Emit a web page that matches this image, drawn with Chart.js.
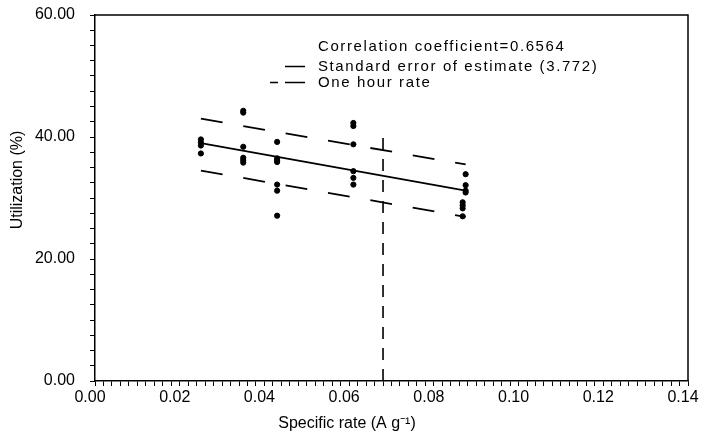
<!DOCTYPE html>
<html lang="en">
<head>
    <meta charset="UTF-8">
    <title>Utilization vs specific rate</title>
    <script src="https://cdn.jsdelivr.net/npm/chart.js"></script>
    <style>
        * {
            margin: 0;
            padding: 0;
            box-sizing: border-box;
        }

        body {
            background: #ffffff;
        }

        .chart-box {
            width: 701px;
            height: 437px;
        }
    </style>
</head>
<body>
    <div class="chart-box">
        <canvas id="utilChart" width="701" height="437"></canvas>
    </div>

    <script>
        // Measured points
        const rateX = [
            0.025, 0.025, 0.025, 0.025,
            0.035, 0.035, 0.035, 0.035, 0.035, 0.035,
            0.043, 0.043, 0.043, 0.043, 0.043, 0.043, 0.043,
            0.061, 0.061, 0.061, 0.061, 0.061, 0.061,
            0.0875, 0.0875, 0.0875, 0.0875,
            0.0868, 0.0868, 0.0868, 0.0868
        ];
        const utilY = [
            39.6, 39.1, 38.6, 37.3,
            44.3, 44.0, 38.4, 36.6, 36.2, 35.8,
            39.2, 36.5, 36.2, 35.9, 32.2, 31.2, 27.1,
            42.3, 41.8, 38.8, 34.4, 33.3, 32.2,
            33.9, 32.1, 31.2, 30.9,
            29.3, 28.8, 28.3, 27.0
        ];

        // Regression line and the dashed band around it
        const lineX = [0.025, 0.0875];
        const fitY = [39.0, 31.2];
        const upperY = [43.0, 35.5];
        const lowerY = [34.5, 26.9];

        // One hour rate marker
        const hourX = [0.068, 0.068];
        const hourY = [0, 40];

        const xTitle = 'Specific rate (A g\u207B\u00B9)';
        const yTitle = 'Utilization (%)';
        const legendLines = [
            'Correlation coefficient=0.6564',
            'Standard error of estimate (3.772)',
            'One hour rate'
        ];

        const toPoints = (xs, ys) => xs.map((x, i) => ({ x: x, y: ys[i] }));

        const tickFont = { family: "'Liberation Sans', Arial, sans-serif", size: 16 };

        // Titles, frame and legend text
        const decorations = {
            id: 'decorations',
            afterDraw(chart) {
                const ctx = chart.ctx;
                const area = chart.chartArea;
                ctx.save();
                ctx.strokeStyle = '#000';
                ctx.lineWidth = 1.5;
                ctx.beginPath();
                ctx.moveTo(area.left, area.top);
                ctx.lineTo(area.right, area.top);
                ctx.lineTo(area.right, area.bottom);
                ctx.stroke();

                ctx.fillStyle = '#000';
                ctx.font = "16px 'Liberation Sans', Arial, sans-serif";
                ctx.textAlign = 'center';
                ctx.textBaseline = 'middle';
                ctx.fillText(xTitle, 347, 424);

                ctx.save();
                ctx.translate(18, 180);
                ctx.rotate(-Math.PI / 2);
                ctx.fillText(yTitle, 0, 0);
                ctx.restore();

                // legend block
                ctx.textAlign = 'left';
                ctx.font = "15px 'Liberation Sans', Arial, sans-serif";
                ctx.letterSpacing = '1.6px';
                ctx.fillText(legendLines[0], 318, 47);
                ctx.fillText(legendLines[1], 318, 67);
                ctx.fillText(legendLines[2], 318, 83);
                ctx.letterSpacing = '0px';

                ctx.lineWidth = 1.6;
                ctx.beginPath();
                ctx.moveTo(285, 66.5);
                ctx.lineTo(305, 66.5);
                ctx.moveTo(270, 82.5);
                ctx.lineTo(278, 82.5);
                ctx.moveTo(285, 82.5);
                ctx.lineTo(305, 82.5);
                ctx.stroke();
                ctx.restore();
            }
        };

        const ctx = document.getElementById('utilChart').getContext('2d');
        const chart = new Chart(ctx, {
            type: 'scatter',
            data: {
                datasets: [
                    {
                        label: 'Measured',
                        data: toPoints(rateX, utilY),
                        backgroundColor: '#000',
                        borderColor: '#000',
                        pointRadius: 2.6,
                        pointHoverRadius: 2.6
                    },
                    {
                        label: 'Fit',
                        type: 'line',
                        data: toPoints(lineX, fitY),
                        borderColor: '#000',
                        borderWidth: 1.8,
                        pointRadius: 0,
                        fill: false
                    },
                    {
                        label: 'Upper',
                        type: 'line',
                        data: toPoints(lineX, upperY),
                        borderColor: '#000',
                        borderWidth: 1.8,
                        borderDash: [22, 21],
                        pointRadius: 0,
                        fill: false
                    },
                    {
                        label: 'Lower',
                        type: 'line',
                        data: toPoints(lineX, lowerY),
                        borderColor: '#000',
                        borderWidth: 1.8,
                        borderDash: [22, 21],
                        pointRadius: 0,
                        fill: false
                    },
                    {
                        label: 'One hour rate',
                        type: 'line',
                        data: toPoints(hourX, hourY),
                        borderColor: '#000',
                        borderWidth: 1.6,
                        borderDash: [12, 9],
                        pointRadius: 0,
                        fill: false
                    }
                ]
            },
            options: {
                responsive: false,
                animation: false,
                layout: {
                    padding: { top: 15, right: 13, left: 0, bottom: 0 }
                },
                plugins: {
                    legend: { display: false },
                    tooltip: { enabled: false }
                },
                scales: {
                    x: {
                        type: 'linear',
                        min: 0,
                        max: 0.14,
                        afterFit: (scale) => {
                            scale.height = 56;
                            scale.paddingLeft = 0;
                            scale.paddingRight = 0;
                        },
                        border: { display: true, color: '#000', width: 1.5 },
                        grid: {
                            drawOnChartArea: false,
                            drawTicks: true,
                            tickLength: 5,
                            color: '#000'
                        },
                        ticks: {
                            stepSize: 0.002,
                            autoSkip: false,
                            maxRotation: 0,
                            padding: 2,
                            labelOffset: -5,
                            color: '#000',
                            font: tickFont,
                            callback: (v) => Math.round(v * 1000) % 20 === 0 ? v.toFixed(2) : ''
                        }
                    },
                    y: {
                        min: 0,
                        max: 60,
                        afterFit: (scale) => {
                            scale.width = 95;
                            scale.paddingTop = 0;
                            scale.paddingBottom = 0;
                        },
                        border: { display: true, color: '#000', width: 1.5 },
                        grid: {
                            drawOnChartArea: false,
                            drawTicks: true,
                            tickLength: 5,
                            color: '#000'
                        },
                        ticks: {
                            stepSize: 2.5,
                            autoSkip: false,
                            padding: 15,
                            color: '#000',
                            font: tickFont,
                            callback: (v) => Math.round(v * 10) % 200 === 0 ? v.toFixed(2) : ''
                        }
                    }
                }
            },
            plugins: [decorations]
        });
    </script>
</body>
</html>
